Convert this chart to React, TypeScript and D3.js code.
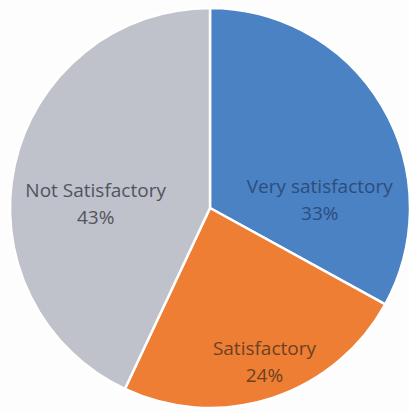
import React, { useEffect, useRef } from 'react';
import * as d3 from "d3";

// slice data
const categories = ["Very satisfactory", "Satisfactory", "Not Satisfactory"];
const shares = [33, 24, 43];
const colors = ["#4a82c4", "#ee7e33", "#bfc1cb"];
const textColors = ["#2d4d7c", "#6b4224", "#52545d"];
// label placement: centroid radius factor and nudges, per slice
const labelRadius = [0.62, 0.8, 0.55];
const labelShift: [number, number][] = [[3, 53], [5, 0], [-7, 18]];

const width = 409, height = 412;

function App() {
  const ref = useRef<SVGSVGElement>(null);

  useEffect(() => {
    if (ref.current == null) return;
    const svg = d3.select(ref.current);
    svg.selectAll("*").remove();

    const cx = 210, cy = 208, radius = 200;
    const g = svg.append("g").attr("transform", "translate(" + cx + "," + cy + ")");

    const pie = d3.pie<number>().sort(null).value(d => d);
    const arcs = pie(shares);
    const arc = d3.arc<d3.PieArcDatum<number>>().innerRadius(0).outerRadius(radius);

    g.selectAll("path.slice")
      .data(arcs)
      .enter()
      .append("path")
      .attr("class", "slice")
      .attr("d", arc)
      .attr("fill", (d, i) => colors[i])
      .attr("stroke", "#fff")
      .attr("stroke-width", 2.5)
      .attr("stroke-linejoin", "round");

    const labels = g.selectAll("g.label")
      .data(arcs)
      .enter()
      .append("g")
      .attr("class", "label")
      .attr("transform", (d, i) => {
        const r = radius * labelRadius[i];
        const c = d3.arc<d3.PieArcDatum<number>>().innerRadius(r).outerRadius(r).centroid(d);
        return "translate(" + (c[0] + labelShift[i][0]) + "," + (c[1] + labelShift[i][1]) + ")";
      });

    labels.append("text")
      .attr("text-anchor", "middle")
      .attr("y", -5)
      .attr("font-family", "'Open Sans', sans-serif")
      .attr("font-size", 19)
      .attr("fill", (d, i) => textColors[i])
      .text((d, i) => categories[i]);
    labels.append("text")
      .attr("text-anchor", "middle")
      .attr("y", 22)
      .attr("font-family", "'Open Sans', sans-serif")
      .attr("font-size", 19)
      .attr("fill", (d, i) => textColors[i])
      .text(d => d.data + "%");
  }, []);

  return (
    <svg ref={ref} width={width} height={height}
      style={{ position: "absolute", left: 0, top: 0, background: "#fdfdfd" }} />
  );
}

export default App;
